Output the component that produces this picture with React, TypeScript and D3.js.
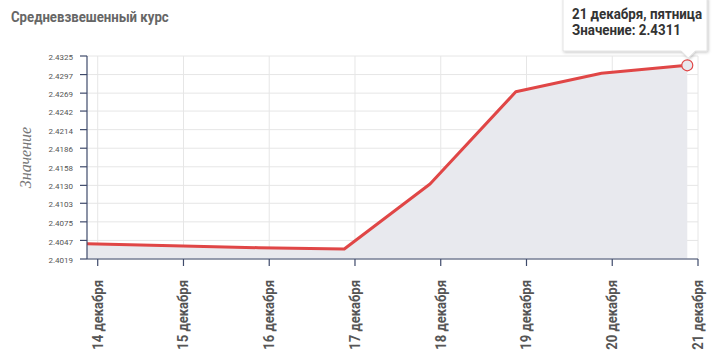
import React from "react";
import * as d3 from "d3";

const dates = ["2018-12-14", "2018-12-15", "2018-12-16", "2018-12-17", "2018-12-18", "2018-12-19", "2018-12-20", "2018-12-21"];
const values = [2.4042, 2.4039, 2.4036, 2.4034, 2.4132, 2.4271, 2.4299, 2.4311];
const yTicks = [2.4019, 2.4047, 2.4075, 2.4103, 2.413, 2.4158, 2.4186, 2.4214, 2.4242, 2.4269, 2.4297, 2.4325];
const title = "Средневзвешенный курс";
const yTitle = "Значение";
const tooltipLines = ["21 декабря, пятница", "Значение: 2.4311"];
const monthName = "декабря";

const W = 720, H = 361;
const M = { left: 87, right: 698, top: 56, bottom: 259 };

export default function App() {
  const data = dates.map((d, i) => ({ t: new Date(d + "T00:00:00+03:00"), v: values[i] }));
  const x = d3.scaleUtc()
    .domain([data[0].t, new Date("2018-12-21T00:00:00Z")])
    .range([M.left, M.right]);
  const y = d3.scaleLinear().domain([yTicks[0], yTicks[yTicks.length - 1]]).range([M.bottom, M.top]);
  const xTicks = d3.utcDay.range(new Date("2018-12-14T00:00:00Z"), new Date("2018-12-21T00:00:01Z"));
  const line = d3.line<any>().x(d => x(d.t)).y(d => y(d.v));
  const area = d3.area<any>().x(d => x(d.t)).y0(M.bottom).y1(d => y(d.v));
  const last = data[data.length - 1];
  const px = x(last.t), py = y(last.v);
  const axisColor = "#3f4a6b";
  const font = "Roboto, sans-serif";

  const boxL = 563, boxR = 707, boxT = -2, boxB = 51;
  const tipX = px + 1;

  return (
    <svg width={W} height={H} style={{ position: "absolute", left: 0, top: 0 }} fontFamily={font}>
      <defs>
        <filter id="sh" x="-20%" y="-20%" width="140%" height="150%">
          <feDropShadow dx="1" dy="1" stdDeviation="1.5" floodColor="#000" floodOpacity="0.25" />
        </filter>
      </defs>
      <rect width={W} height={H} fill="#fff" />
      <text transform="translate(11,22) scale(0.88,1)" fontSize={15} fontWeight="bold" fill="#666">{title}</text>
      {/* grid */}
      {yTicks.map(t => (
        <line key={"gy" + t} x1={M.left} x2={M.right} y1={y(t)} y2={y(t)} stroke="#e6e6e6" />
      ))}
      {xTicks.map(t => (
        <line key={"gx" + +t} x1={x(t)} x2={x(t)} y1={M.top} y2={M.bottom} stroke="#e6e6e6" />
      ))}
      <path d={area(data) || ""} fill="#e8e9ee" />
      <path d={line(data) || ""} fill="none" stroke="#e04646" strokeWidth={3} strokeLinejoin="round" />
      {/* y axis */}
      <line x1={M.left} x2={M.left} y1={M.top} y2={M.bottom} stroke={axisColor} strokeWidth={1.2} />
      {yTicks.map(t => (
        <g key={"yt" + t}>
          <line x1={M.left - 7} x2={M.left} y1={y(t)} y2={y(t)} stroke={axisColor} strokeWidth={1.2} />
          <text x={73} y={y(t) + 2} fontSize={8} fill="#555" textAnchor="end" dominantBaseline="middle">{t.toFixed(4)}</text>
        </g>
      ))}
      <text transform={`translate(31,${(M.top + M.bottom) / 2}) rotate(-90)`} textAnchor="middle" fontSize={16} fontStyle="italic" fontFamily="'Liberation Serif', serif" fill="#777">{yTitle}</text>
      {/* x axis */}
      <line x1={M.left} x2={M.right} y1={M.bottom} y2={M.bottom} stroke={axisColor} strokeWidth={1.2} />
      {xTicks.map(t => (
        <g key={"xt" + +t}>
          <line x1={x(t)} x2={x(t)} y1={M.bottom} y2={M.bottom + 7} stroke={axisColor} strokeWidth={1.2} />
          <text transform={`translate(${x(t) + 5},280) rotate(-90) scale(0.9,1)`} textAnchor="end" fontSize={14.5} fontWeight="bold" fill="#555">{`${t.getUTCDate()} ${monthName}`}</text>
        </g>
      ))}
      {/* point */}
      <circle cx={px} cy={py} r={5.5} fill="#e8e9ee" stroke="#e04646" strokeWidth={1.2} />
      {/* tooltip */}
      <path
        d={`M${boxL},${boxT} H${boxR} V${boxB} H${tipX + 7} L${tipX},${boxB + 7} L${tipX - 7},${boxB} H${boxL} Z`}
        fill="#fff" stroke="#ddd" strokeWidth={0.8} filter="url(#sh)" />
      <text transform="translate(572,19) scale(0.92,1)" fontSize={14.5} fontWeight="bold" fill="#333">{tooltipLines[0]}</text>
      <text transform="translate(572,35) scale(0.92,1)" fontSize={14.5} fontWeight="bold" fill="#333">{tooltipLines[1]}</text>
    </svg>
  );
}
